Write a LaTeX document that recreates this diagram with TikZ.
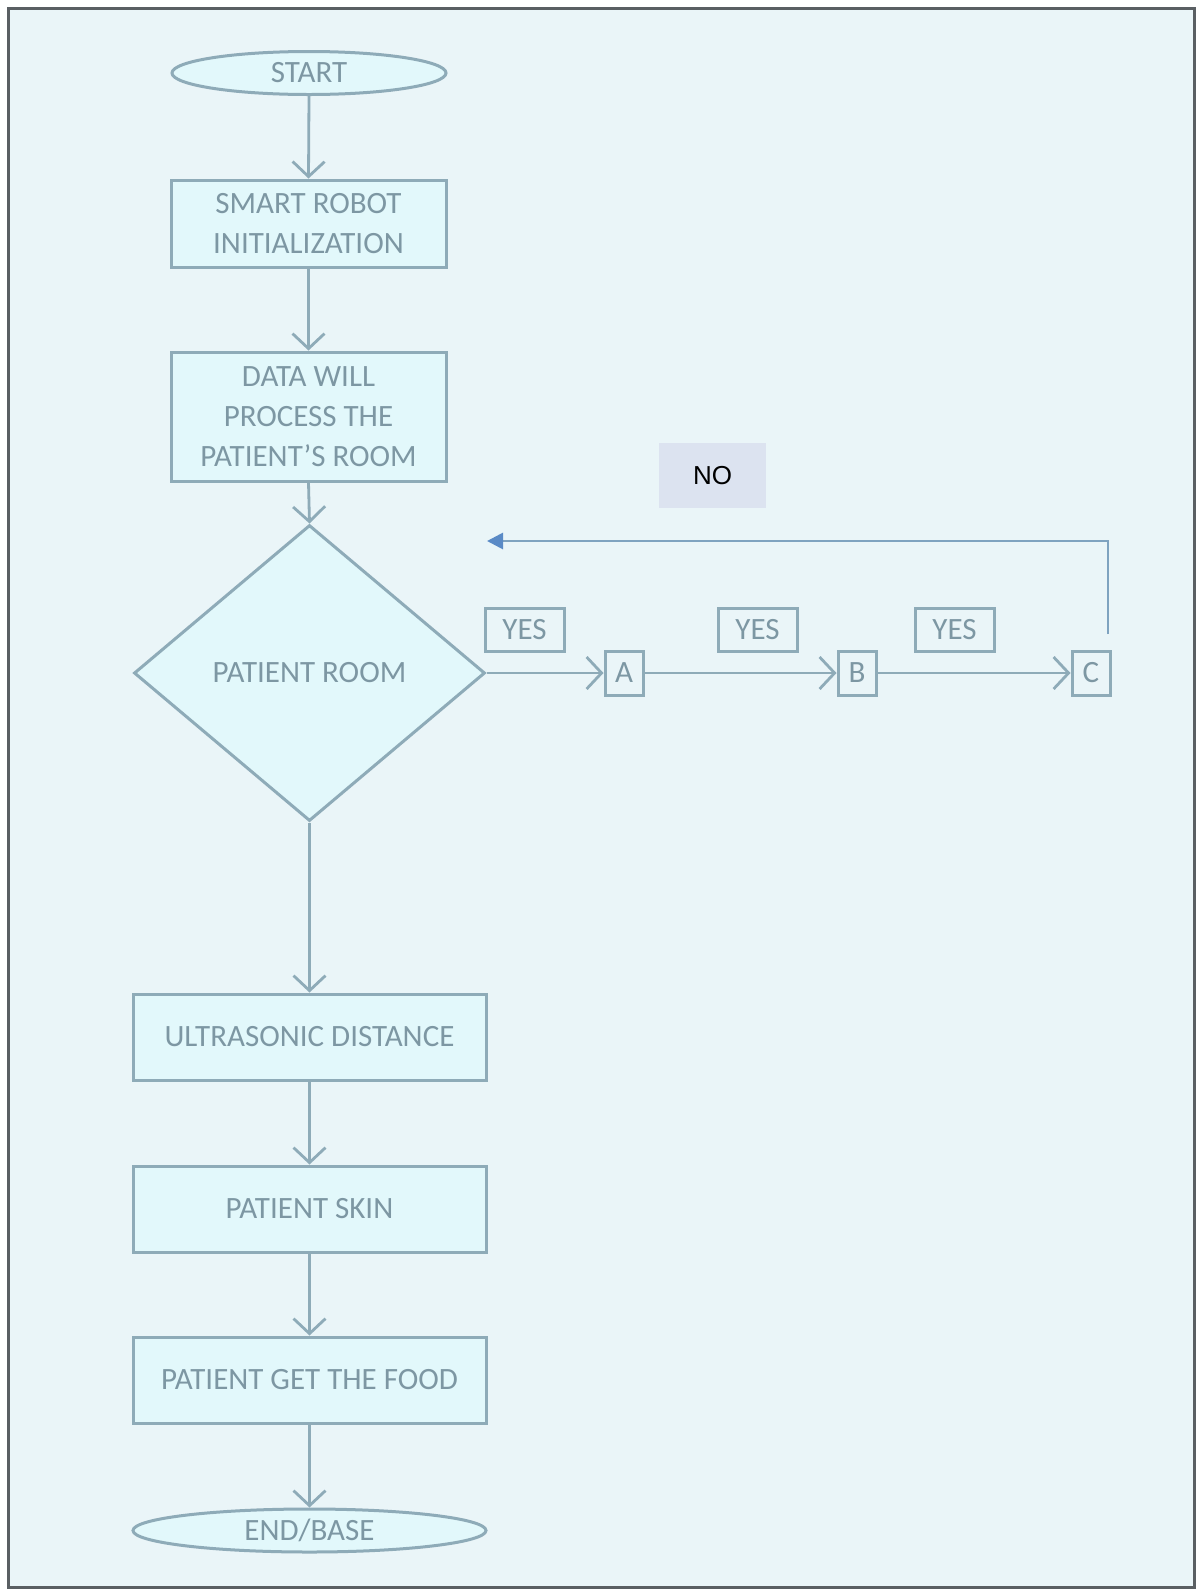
\documentclass[tikz,border=0pt]{standalone}
\usepackage{fontspec}
\setmainfont{Carlito}
\newfontfamily\nofont{Liberation Sans}
\usetikzlibrary{shapes.geometric,arrows.meta}
\definecolor{bgc}{HTML}{EAF5F8}
\definecolor{framec}{HTML}{5A5F63}
\definecolor{linec}{HTML}{8EABB8}
\definecolor{fillc}{HTML}{E2F8FB}
\definecolor{textc}{HTML}{7D97A3}
\definecolor{nofill}{HTML}{DCE3F0}
\definecolor{fbline}{HTML}{7FA3C0}
\definecolor{fbtip}{HTML}{5A8AC6}
\tikzset{
  base/.style={draw=linec, line width=1.5pt, fill=fillc, text=textc, inner sep=0pt,
    font=\fontsize{15.5}{20}\selectfont, align=center},
  procbox/.style={base, rectangle},
  termnode/.style={base, ellipse},
  decnode/.style={base, diamond},
  smallbox/.style={draw=linec, line width=1.5pt, text=textc, inner sep=0pt,
    font=\fontsize{15.5}{20}\selectfont},
  nobox/.style={fill=nofill, text=black, inner sep=0pt, font=\nofont\fontsize{13}{15}\selectfont},
  flow/.style={draw=linec, line width=1.4pt, -{Straight Barb[length=7.5pt,width=16pt]}},
  fback/.style={draw=fbline, line width=1.4pt, -{Triangle[length=8pt,width=8pt,color=fbtip]}}
}
\begin{document}
\begin{tikzpicture}[x=0.5pt,y=-0.5pt]
\useasboundingbox (0,0) rectangle (1202,1591);
\fill[white] (0,0) rectangle (1202,1591);
\draw[framec, line width=1.5pt, fill=bgc] (8,8) rectangle (1194,1587);

\node[termnode, minimum width=137pt, minimum height=21.5pt] (start) at (309,73) {START};
\node[procbox, minimum width=137.5pt, minimum height=43.5pt] (init) at (308.5,223.5) {SMART ROBOT\\INITIALIZATION};
\node[procbox, minimum width=137.5pt, minimum height=64.5pt] (data) at (308.5,416.5) {DATA WILL\\PROCESS THE\\PATIENT'S ROOM};
\node[decnode, minimum width=175.5pt, minimum height=148pt] (room) at (309.5,673) {PATIENT ROOM};

\node[smallbox, minimum width=19pt, minimum height=22pt] (A) at (624,673) {A};
\node[smallbox, minimum width=19pt, minimum height=22pt] (B) at (857,673) {B};
\node[smallbox, minimum width=19pt, minimum height=22pt] (C) at (1091,673) {C};

\node[smallbox, minimum width=39.5pt, minimum height=21.5pt] (yes1) at (524.5,629.5) {YES};
\node[smallbox, minimum width=39.5pt, minimum height=21.5pt] (yes2) at (757.5,629.5) {YES};
\node[smallbox, minimum width=39.5pt, minimum height=21.5pt] (yes3) at (954.5,629.5) {YES};

\node[nobox, minimum width=53.5pt, minimum height=32.5pt] (no) at (712.5,475.5) {NO};

\node[procbox, minimum width=176.5pt, minimum height=43pt] (ultra) at (309.5,1037) {ULTRASONIC DISTANCE};
\node[procbox, minimum width=176.5pt, minimum height=43pt] (skin) at (309.5,1209) {PATIENT SKIN};
\node[procbox, minimum width=176.5pt, minimum height=43pt] (food) at (309.5,1380) {PATIENT GET THE FOOD};
\node[termnode, minimum width=176.5pt, minimum height=21.5pt] (endn) at (309.5,1530.5) {END/BASE};

\coordinate (cTop) at (1108,634);
\coordinate (fbCorner) at (1108,541);
\coordinate (fbTip) at (487,541);

\draw[flow] (start.south) -- (init.north);
\draw[flow] (init.south) -- (data.north);
\draw[flow] (data.south) -- (room.north);
\draw[flow] (room.south) -- (ultra.north);
\draw[flow] (ultra.south) -- (skin.north);
\draw[flow] (skin.south) -- (food.north);
\draw[flow] (food.south) -- (endn.north);
\draw[flow] (room.east) -- (A.west);
\draw[flow] (A.east) -- (B.west);
\draw[flow] (B.east) -- (C.west);
\draw[fback] (cTop) -- (fbCorner) -- (fbTip);
\end{tikzpicture}
\end{document}
